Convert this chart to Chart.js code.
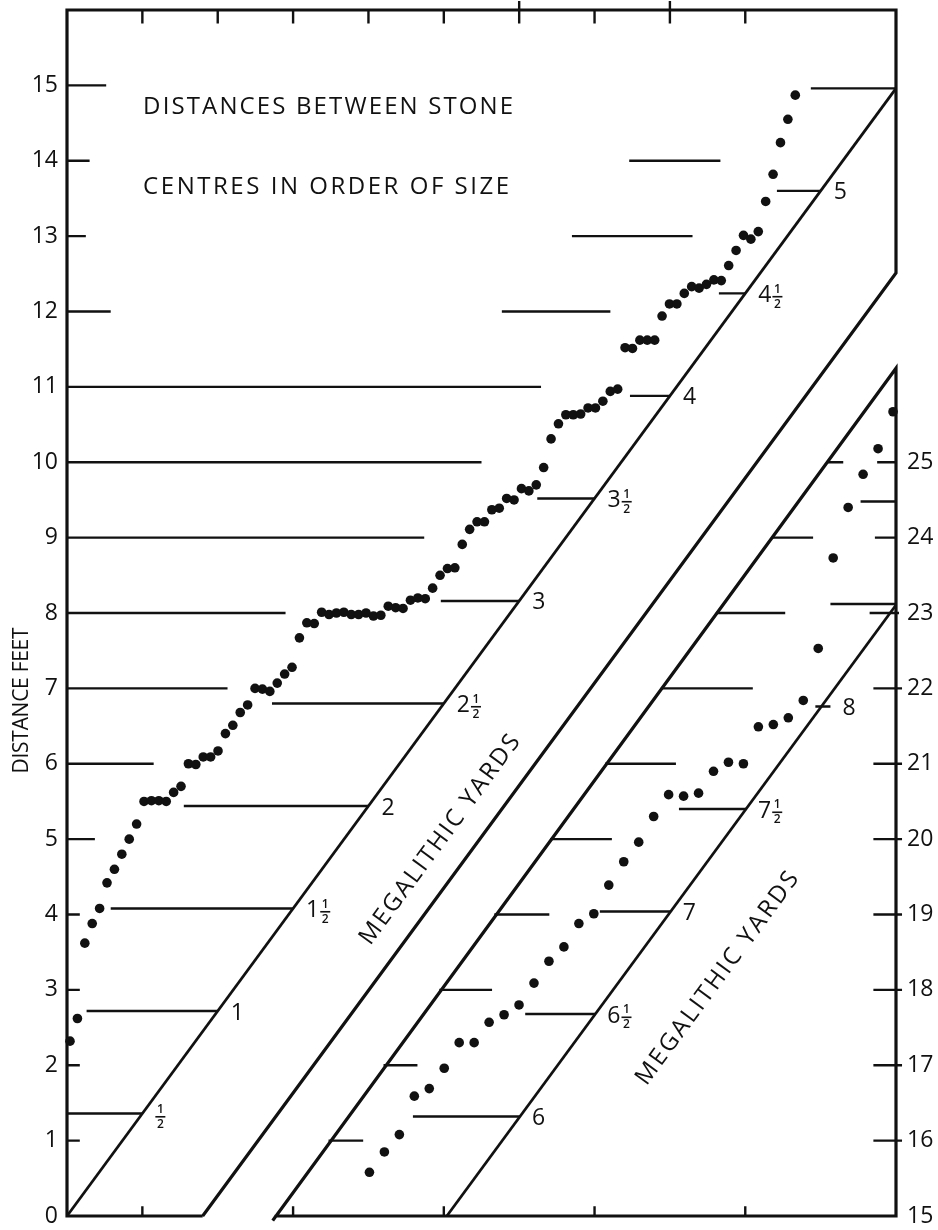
<!DOCTYPE html>
<html lang="en">

<head>
    <meta charset="UTF-8">
    <title>Distances Between Stone Centres</title>
    <script src="https://cdn.jsdelivr.net/npm/chart.js"></script>
    <style>
        html, body { margin: 0; padding: 0; background: #fff; }
    </style>
</head>

<body>
    <canvas id="chart" width="938" height="1230"></canvas>

    <script>
        // distances (feet) in order of size, read against the left scale
        const leftDistances = [
            2.32, 2.62, 3.62, 3.88, 4.08, 4.42, 4.60, 4.80, 5.00, 5.20,
            5.50, 5.51, 5.51, 5.50, 5.62, 5.70, 6.00, 5.99, 6.09, 6.09,
            6.17, 6.40, 6.51, 6.68, 6.78, 7.00, 6.99, 6.96, 7.07, 7.19,
            7.28, 7.67, 7.87, 7.86, 8.01, 7.98, 8.00, 8.01, 7.98, 7.98,
            8.00, 7.96, 7.97, 8.09, 8.07, 8.06, 8.17, 8.20, 8.19, 8.33,
            8.50, 8.59, 8.60, 8.91, 9.11, 9.21, 9.21, 9.37, 9.39, 9.52,
            9.50, 9.65, 9.62, 9.70, 9.93, 10.31, 10.51, 10.63, 10.63, 10.64,
            10.72, 10.72, 10.81, 10.94, 10.97, 11.52, 11.51, 11.62, 11.62, 11.62,
            11.94, 12.10, 12.10, 12.24, 12.33, 12.31, 12.36, 12.42, 12.41, 12.61,
            12.81, 13.01, 12.96, 13.06, 13.46, 13.82, 14.24, 14.55, 14.87
        ];
        // the longer distances, read against the right scale
        const rightDistances = [
            15.58, 15.85, 16.08, 16.59, 16.69, 16.96, 17.30, 17.30, 17.57, 17.67,
            17.80, 18.09, 18.38, 18.57, 18.88, 19.01, 19.39, 19.70, 19.96, 20.30,
            20.59, 20.57, 20.61, 20.90, 21.02, 21.00, 21.49, 21.52, 21.61, 21.84,
            22.53, 23.73, 24.40, 24.84, 25.18, 25.67
        ];
        const leftTicks = [0, 1, 2, 3, 4, 5, 6, 7, 8, 9, 10, 11, 12, 13, 14, 15];
        const rightTicks = [15, 16, 17, 18, 19, 20, 21, 22, 23, 24, 25];
        // megalithic yard marks on the two diagonal scales
        const labelledLeft = [0.5, 1, 1.5, 2, 2.5, 3, 3.5, 4, 4.5, 5];
        const labelledRight = [6, 6.5, 7, 7.5, 8];
        const FEET_PER_MY = 2.72;

        // ---- layout (drawing geometry, x in frame units) ----
        const FONT = '"Open Sans", Lato, sans-serif';
        const INK = '#111';
        const X_MAX = 11, Y_MAX = 16, RIGHT_BASE = 15;
        const SLOPE = FEET_PER_MY / 2;         // diagonal: feet per frame unit
        const DIAG2_X0 = 1.8, DIAG3_X0 = 2.73, DIAG4_X0 = 5.04;
        const RANK_L = { first: 0.04, step: 0.0982 };
        const RANK_R = { first: 4.013, step: 0.1985 };

        // where each megalithic yard line starts [yards, x1, x2]
        const leftYardRuns = [[0.5, 0, null], [1, 0.26, null], [1.5, 0.58, null], [2, 1.55, null],
            [2.5, 2.72, null], [3, 4.96, null], [3.5, 6.24, null], [4, 7.47, null],
            [4.5, 8.65, null], [5, 9.42, null], [5.5, 9.87, 11]];
        const rightYardRuns = [[6, 4.59, null], [6.5, 6.08, null], [7, 7.07, null], [7.5, 8.12, null],
            [8, 9.93, 10.13], [8.5, 10.13, 11], [9, 10.53, 11]];
        // broken horizontal rules [feet, x1, x2]
        const leftRules = [[1, 0, 0.17], [2, 0, 0.17], [3, 0, 0.17], [4, 0, 0.17], [5, 0, 0.37],
            [6, 0, 1.15], [7, 0, 2.13], [8, 0, 2.9], [9, 0, 4.74], [10, 0, 5.5], [11, 0, 6.29],
            [12, 0, 0.58], [12, 5.77, 7.21], [13, 0, 0.25], [13, 6.7, 8.3],
            [14, 0, 0.3], [14, 7.46, 8.67], [15, 0, 0.52]];
        const rightRules = [[16, 3.47, 3.93], [17, 4.2, 4.65], [18, 4.94, 5.64], [19, 5.67, 6.4],
            [20, 6.41, 7.23], [21, 7.14, 8.08], [22, 7.88, 9.1], [23, 8.61, 9.53],
            [24, 9.35, 9.9], [25, 10.08, 10.3],
            [16, 10.7, 11.08], [17, 10.7, 11.08], [18, 10.7, 11.08], [19, 10.7, 11.08],
            [20, 10.7, 11.08], [21, 10.7, 11.08], [22, 10.7, 11.08], [23, 10.65, 11.04],
            [24, 10.72, 11], [25, 10.75, 11]];

        const yardX = my => my * FEET_PER_MY / SLOPE;
        const yardXRight = my => DIAG4_X0 + (my * FEET_PER_MY - RIGHT_BASE) / SLOPE;

        function segments(list) {
            const pts = [];
            list.forEach(path => {
                path.forEach(([x, y]) => pts.push({ x, y }));
                pts.push({ x: NaN, y: NaN });
            });
            return pts;
        }

        const lineSet = (data, width, yAxisID) => ({
            data, yAxisID: yAxisID || 'y', xAxisID: 'x',
            showLine: true, spanGaps: false, pointRadius: 0,
            borderColor: INK, borderWidth: width, borderJoinStyle: 'miter',
            borderCapStyle: 'butt', clip: false
        });

        const framePaths = [
            [[DIAG2_X0, 0], [0, 0], [0, Y_MAX], [X_MAX, Y_MAX], [X_MAX, SLOPE * (X_MAX - DIAG2_X0)], [DIAG2_X0, 0]],
            [[DIAG3_X0, -0.06], [DIAG3_X0 + 0.04, 0], [X_MAX, 0], [X_MAX, SLOPE * (X_MAX - DIAG3_X0)], [DIAG3_X0, -0.06]]
        ];
        const diagPaths = [
            [[0, 0], [X_MAX, SLOPE * X_MAX]]
        ];
        const diag4Paths = [
            [[DIAG4_X0, RIGHT_BASE], [X_MAX, RIGHT_BASE + SLOPE * (X_MAX - DIAG4_X0)]]
        ];
        const axisTicks = [1, 2, 3, 4, 5, 6, 7, 8, 9].map(t =>
            [[t, (t === 6 || t === 8) ? Y_MAX + 0.12 : Y_MAX], [t, Y_MAX - 0.18]])
            .concat([1, 3, 5, 7, 9].map(t => [[t, 0], [t, 0.13]]));

        const leftRulePaths = leftRules.map(([f, a, b]) => [[a, f], [b, f]])
            .concat(leftYardRuns.map(([my, a, b]) => [[a, my * FEET_PER_MY], [b == null ? yardX(my) : b, my * FEET_PER_MY]]));
        const rightRulePaths = rightRules.map(([f, a, b]) => [[a, f], [b, f]])
            .concat(rightYardRuns.map(([my, a, b]) => [[a, my * FEET_PER_MY], [b == null ? yardXRight(my) : b, my * FEET_PER_MY]]));

        const textPlugin = {
            id: 'stoneText',
            afterDatasetsDraw(chart) {
                const { ctx, scales: { x, y, y2 } } = chart;
                const angle = -Math.atan(SLOPE);
                ctx.save();
                ctx.fillStyle = INK;

                fitText(ctx, 'DISTANCES BETWEEN STONE', x.getPixelForValue(1.01), y.getPixelForValue(14.71), 370, 0, 'left', 24);
                fitText(ctx, 'CENTRES IN ORDER OF SIZE', x.getPixelForValue(1.01), y.getPixelForValue(13.65), 366, 0, 'left', 24);
                fitText(ctx, 'DISTANCE FEET', 22, y.getPixelForValue(6.84), 146, -Math.PI / 2, 'center', 21);
                fitText(ctx, 'MEGALITHIC YARDS', x.getPixelForValue(4.95), y.getPixelForValue(4.99), 254, angle, 'center', 24);
                fitText(ctx, 'MEGALITHIC YARDS', x.getPixelForValue(8.63), y.getPixelForValue(3.15), 258, angle, 'center', 24);

                labelledLeft.forEach(my => {
                    drawYards(ctx, my, x.getPixelForValue(yardX(my)) + 13, y.getPixelForValue(my * FEET_PER_MY) + 2);
                });
                labelledRight.forEach(my => {
                    const run = rightYardRuns.find(r => r[0] === my);
                    const end = run[2] == null ? yardXRight(my) : run[2];
                    drawYards(ctx, my, x.getPixelForValue(end) + 12, y2.getPixelForValue(my * FEET_PER_MY) + 2);
                });
                ctx.restore();
            }
        };

        function fitText(ctx, text, px, py, width, angle, align, size) {
            ctx.save();
            ctx.translate(px, py);
            ctx.rotate(angle);
            ctx.font = `500 ${size}px ${FONT}`;
            ctx.textBaseline = 'middle';
            ctx.textAlign = 'left';
            if ('letterSpacing' in ctx) ctx.letterSpacing = '0px';
            const w = ctx.measureText(text).width;
            const start = align === 'center' ? -width / 2 : 0;
            if ('letterSpacing' in ctx) {
                ctx.letterSpacing = ((width - w) / (text.length - 1)) + 'px';
                ctx.fillText(text, start, 0);
            } else {
                ctx.translate(start, 0);
                ctx.scale(width / w, 1);
                ctx.fillText(text, 0, 0);
            }
            ctx.restore();
        }

        function drawYards(ctx, my, px, py) {
            const whole = Math.floor(my);
            ctx.font = `500 23px ${FONT}`;
            ctx.textAlign = 'left';
            ctx.textBaseline = 'middle';
            let cx = px;
            if (whole > 0) {
                ctx.fillText(String(whole), cx, py);
                cx += ctx.measureText(String(whole)).width + 1;
            }
            if (my > whole) {
                ctx.font = `600 12px ${FONT}`;
                ctx.textAlign = 'center';
                ctx.fillText('1', cx + 5, py - 6);
                ctx.fillRect(cx, py + 0.5, 10, 1.6);
                ctx.fillText('2', cx + 5, py + 9);
            }
        }

        const tickFont = { family: FONT, size: 23, weight: '500' };

        new Chart(document.getElementById('chart'), {
            type: 'scatter',
            data: {
                datasets: [
                    {
                        data: leftDistances.map((d, i) => ({ x: i + 1, y: d })),
                        xAxisID: 'xr', yAxisID: 'y',
                        pointRadius: 4.8, pointBackgroundColor: INK, pointBorderWidth: 0, clip: false
                    },
                    {
                        data: rightDistances.map((d, i) => ({ x: i + 1, y: d })),
                        xAxisID: 'xs', yAxisID: 'y2',
                        pointRadius: 4.8, pointBackgroundColor: INK, pointBorderWidth: 0, clip: false
                    },
                    lineSet(segments(framePaths), 3.2),
                    lineSet(segments(diagPaths), 2.8),
                    lineSet(segments(diag4Paths), 2.8, 'y2'),
                    lineSet(segments(axisTicks), 2.4),
                    lineSet(segments(leftRulePaths), 2.4),
                    lineSet(segments(rightRulePaths), 2.4, 'y2')
                ]
            },
            options: {
                responsive: false,
                animation: false,
                layout: { padding: { top: 10, bottom: 14, left: 0, right: 0 } },
                plugins: { legend: { display: false }, tooltip: { enabled: false } },
                scales: {
                    x: { type: 'linear', min: 0, max: X_MAX, display: false },
                    xr: {
                        type: 'linear', display: false,
                        min: 1 - RANK_L.first / RANK_L.step,
                        max: 1 + (X_MAX - RANK_L.first) / RANK_L.step
                    },
                    xs: {
                        type: 'linear', display: false,
                        min: 1 - RANK_R.first / RANK_R.step,
                        max: 1 + (X_MAX - RANK_R.first) / RANK_R.step
                    },
                    y: {
                        type: 'linear', position: 'left', min: 0, max: Y_MAX,
                        grid: { display: false, drawTicks: false }, border: { display: false },
                        ticks: { font: tickFont, color: INK, padding: 9 },
                        afterBuildTicks: s => { s.ticks = leftTicks.map(v => ({ value: v })); },
                        afterFit: s => { s.width = 67; s.paddingTop = 0; s.paddingBottom = 0; }
                    },
                    y2: {
                        type: 'linear', position: 'right', min: RIGHT_BASE, max: RIGHT_BASE + Y_MAX,
                        grid: { display: false, drawTicks: false }, border: { display: false },
                        ticks: { font: tickFont, color: INK, padding: 11 },
                        afterBuildTicks: s => { s.ticks = rightTicks.map(v => ({ value: v })); },
                        afterFit: s => { s.width = 42; s.paddingTop = 0; s.paddingBottom = 0; }
                    }
                }
            },
            plugins: [textPlugin]
        });
    </script>
</body>

</html>
